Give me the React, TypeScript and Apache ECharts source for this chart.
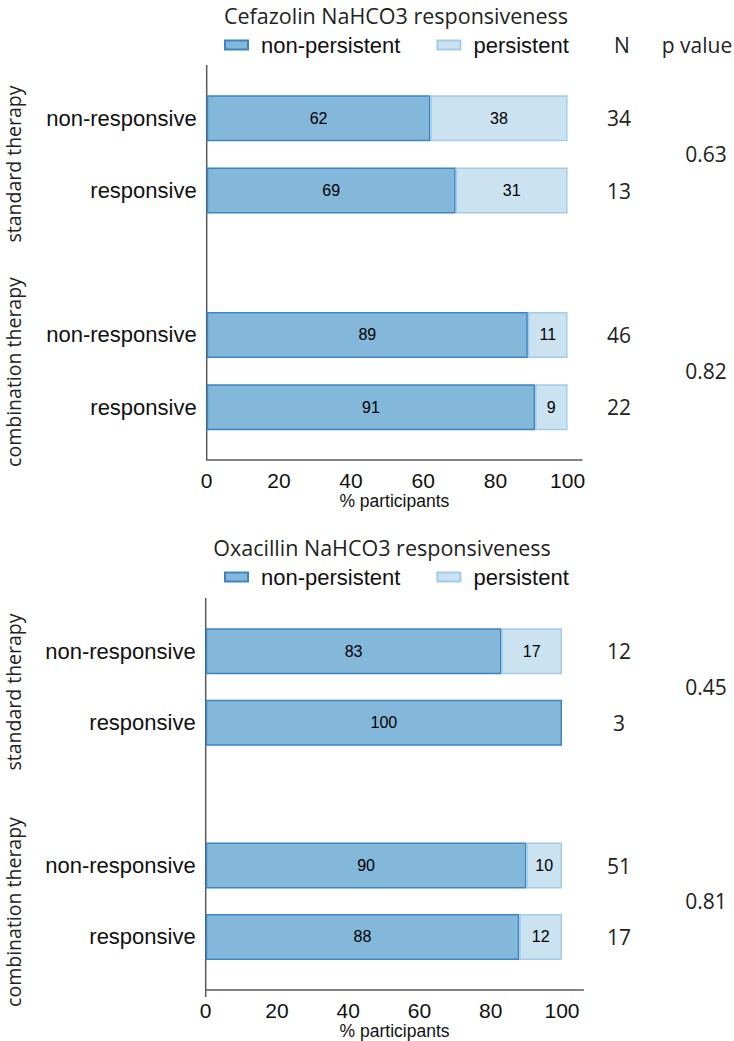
import React, { useEffect, useRef } from "react";
import * as echarts from "echarts";

// ---------- data ----------
const rowKeys = ["std-nr", "std-r", "gap", "cmb-nr", "cmb-r"];
const rowLabels = ["non-responsive", "responsive", "", "non-responsive", "responsive"];
const groupLabels = ["standard therapy", "combination therapy"];
const seriesNames = ["non-persistent", "persistent"];
const xTicks = [0, 20, 40, 60, 80, 100];
const xAxisName = "% participants";
const colHeaders = ["N", "p value"];

const cefTitle = "Cefazolin NaHCO3 responsiveness";
const cefNonPersistent = [62, 69, null, 89, 91];
const cefPersistent = [38, 31, null, 11, 9];
const cefN = [34, 13, 46, 22];
const cefP = ["0.63", "0.82"];

const oxaTitle = "Oxacillin NaHCO3 responsiveness";
const oxaNonPersistent = [83, 100, null, 90, 88];
const oxaPersistent = [17, 0, null, 10, 12];
const oxaN = [12, 3, 51, 17];
const oxaP = ["0.45", "0.81"];

// ---------- layout / style ----------
const SANS = "Arial, 'Liberation Sans', Helvetica, sans-serif";
const OPEN = "'Open Sans', 'Noto Sans', sans-serif";
const C_NP = "#84b8da";
const C_NP_B = "#3a85c2";
const C_P = "#cbe2f1";
const C_P_B = "#a2cce7";
const AXIS_C = "#5a5a5a";

const panels = [
  {
    title: cefTitle, np: cefNonPersistent, p: cefPersistent, n: cefN, pv: cefP,
    left: 206.7, width: 375.3, top: 82.25, height: 361, xMax: 104, xOffset: 16.75,
    axisTop: 65, axisBottom: 460, titleY: 4, titleSize: 21.5, legendTop: 34, headers: true,
    groupY: [164, 372],
  },
  {
    title: oxaTitle, np: oxaNonPersistent, p: oxaPersistent, n: oxaN, pv: oxaP,
    left: 205.7, width: 377.7, top: 615.6, height: 364, xMax: 106, xOffset: 17.4,
    axisTop: 598, axisBottom: 997, titleY: 536, titleSize: 21.5, legendTop: 566, headers: false,
    groupY: [692, 912],
  },
];
const titleX = [396, 382];
const nX = 619;
const pX = 706;

function buildOption() {
  const grid: any[] = [];
  const xAxis: any[] = [];
  const yAxis: any[] = [];
  const series: any[] = [];
  const legend: any[] = [];

  panels.forEach((pn, i) => {
    grid.push({ left: pn.left, top: pn.top, width: pn.width, height: pn.height, containLabel: false });
    xAxis.push({
      type: "value", gridIndex: i, min: 0, max: pn.xMax, interval: 20, position: "bottom", offset: pn.xOffset,
      axisLine: { show: true, lineStyle: { color: AXIS_C, width: 1.5 } },
      axisTick: { show: false }, splitLine: { show: false },
      axisLabel: {
        fontSize: 21, color: "#111", fontFamily: SANS, margin: 10,
        formatter: (v: number) => (xTicks.indexOf(v) >= 0 ? String(v) : ""),
      },
      name: xAxisName, nameLocation: "middle", nameGap: 29,
      nameTextStyle: { fontSize: 17.5, color: "#111", fontFamily: SANS },
    });
    yAxis.push({
      type: "category", gridIndex: i, data: rowKeys, inverse: true,
      axisLine: { show: false }, axisTick: { show: false }, splitLine: { show: false },
      axisLabel: {
        fontSize: 22, color: "#111", fontFamily: SANS, margin: 10,
        formatter: (_v: string, idx: number) => rowLabels[idx],
      },
    });
    const mk = (name: string, vals: (number | null)[], fill: string, border: string) => ({
      type: "bar", name, xAxisIndex: i, yAxisIndex: i, stack: "s" + i, barWidth: 46,
      data: vals.map((v) => (v === null || v === 0 ? "-" : v)),
      itemStyle: { color: fill, borderColor: border, borderWidth: 1.5 },
      label: {
        show: true, position: "inside", fontSize: 16, color: "#000", fontFamily: SANS,
        formatter: (p: any) => (p.value ? String(p.value) : ""),
      },
      emphasis: { disabled: true },
    });
    series.push(mk(seriesNames[0], pn.np, C_NP, C_NP_B));
    series.push(mk(seriesNames[1], pn.p, C_P, C_P_B));
    legend.push({
      data: seriesNames, left: 224, top: pn.legendTop, orient: "horizontal", padding: 0,
      icon: "rect", itemWidth: 23, itemHeight: 9, itemGap: 36, selectedMode: false,
      textStyle: { fontSize: 22, color: "#111", fontFamily: SANS, padding: [0, 0, 0, 8] },
    });
  });

  return { animation: false, backgroundColor: "#fff", grid, xAxis, yAxis, series, legend, tooltip: { show: false } };
}

function buildGraphic(chart: any) {
  const els: any[] = [];
  const txt = (text: string, x: number, y: number, size: number, font: string, va = "middle") => ({
    type: "text", x, y, silent: true,
    style: { text, fontSize: size, fontFamily: font, fill: "#222", align: "center", verticalAlign: va },
  });
  panels.forEach((pn, i) => {
    els.push(txt(pn.title, titleX[i], pn.titleY, pn.titleSize, OPEN, "top"));
    els.push({
      type: "line", silent: true,
      shape: { x1: pn.left, y1: pn.axisTop, x2: pn.left, y2: pn.axisBottom },
      style: { stroke: AXIS_C, lineWidth: 1.5 },
    });
    groupLabels.forEach((g, gi) => {
      els.push({
        type: "text", x: 13, y: pn.groupY[gi], rotation: Math.PI / 2, silent: true,
        style: { text: g, fontSize: 19.5, fontFamily: OPEN, fill: "#222", align: "center", verticalAlign: "middle" },
      });
    });
    const rowIdx = [0, 1, 3, 4];
    const ys = rowIdx.map((r) => chart.convertToPixel({ yAxisIndex: i }, rowKeys[r]) as number);
    pn.n.forEach((v, k) => els.push(txt(String(v), nX, ys[k], 21, OPEN)));
    pn.pv.forEach((v, k) => els.push(txt(v, pX, (ys[2 * k] + ys[2 * k + 1]) / 2, 21, OPEN)));
    if (pn.headers) {
      els.push(txt(colHeaders[0], 622, 45, 21, OPEN));
      els.push(txt(colHeaders[1], 697, 45, 21, OPEN));
    }
  });
  return els;
}

export default function App() {
  const ref = useRef<HTMLDivElement>(null);
  useEffect(() => {
    if (!ref.current) return;
    const chart = echarts.init(ref.current, undefined, { renderer: "svg" });
    chart.setOption(buildOption());
    chart.setOption({ graphic: { elements: buildGraphic(chart) } });
    return () => chart.dispose();
  }, []);
  return (
    <div
      ref={ref}
      style={{ position: "absolute", left: 0, top: 0, width: 734, height: 1041, background: "#fff" }}
    />
  );
}
